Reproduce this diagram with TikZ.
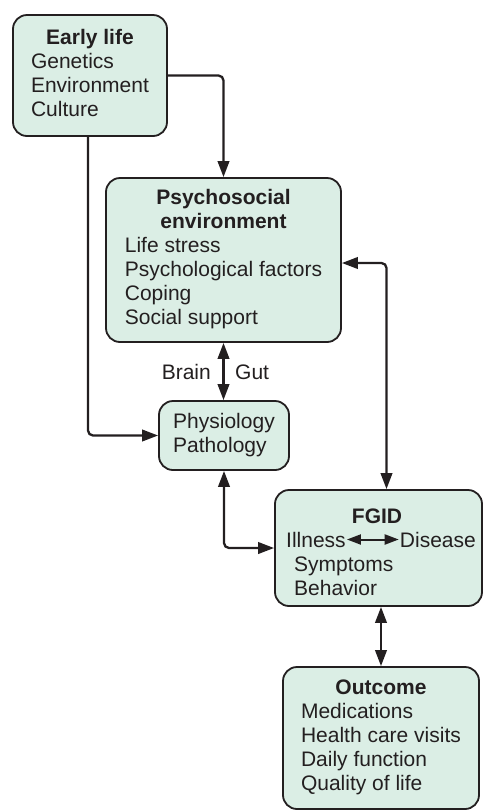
\documentclass[tikz,border=0pt]{standalone}
\usepackage{fontspec}
\setmainfont{Liberation Sans}
\usetikzlibrary{arrows.meta}
\definecolor{boxfill}{RGB}{219,238,229}
\definecolor{ink}{RGB}{35,31,32}
\begin{document}
\begin{tikzpicture}[x=1pt,y=-1pt,
  box/.style={draw=ink, line width=1.8pt, fill=boxfill, rounded corners=14pt, inner sep=0pt, text=ink, font=\fontsize{21}{24}\selectfont},
  lbl/.style={inner sep=0pt, text=ink, font=\fontsize{21}{24}\selectfont},
  conn/.style={draw=ink, line width=2.3pt, rounded corners=5pt, -{Triangle[length=16pt,width=11.5pt]}},
  biconn/.style={draw=ink, line width=2.3pt, rounded corners=5pt, {Triangle[length=16pt,width=11.5pt]}-{Triangle[length=16pt,width=11.5pt]}},
  smallbi/.style={draw=ink, line width=2pt, {Triangle[length=14pt,width=10pt]}-{Triangle[length=14pt,width=10pt]}}]
\useasboundingbox (0,0) rectangle (484,812);

\node[box, minimum width=154pt, minimum height=121pt] (early) at (90,75.5)
  {\begin{tabular}{@{}l@{}}\multicolumn{1}{@{}c@{}}{\textbf{Early life}}\\Genetics\\Environment\\Culture\end{tabular}};

\node[box, minimum width=235pt, minimum height=164pt] (psycho) at (223.5,260)
  {\begin{tabular}{@{}l@{}}\multicolumn{1}{@{}c@{}}{\textbf{Psychosocial}}\\\multicolumn{1}{@{}c@{}}{\textbf{environment}}\\Life stress\\Psychological factors\\Coping\\Social support\end{tabular}};

\node[box, minimum width=130pt, minimum height=69pt] (physio) at (224,435.5)
  {\begin{tabular}{@{}l@{}}Physiology\\Pathology\end{tabular}};

\node[box, minimum width=207pt, minimum height=116pt] (fgid) at (378.5,548) {};
\node[lbl, anchor=base] (fgidtitle) at (377,523) {\textbf{FGID}};
\node[lbl, anchor=base west] (illness) at (286,547) {Illness};
\node[lbl, anchor=base east] (disease) at (476,547) {Disease};
\node[lbl, anchor=base west] (symptoms) at (294,571) {Symptoms};
\node[lbl, anchor=base west] (behavior) at (294,595) {Behavior};

\node[box, minimum width=196pt, minimum height=142pt] (outcome) at (381,738)
  {\begin{tabular}{@{}l@{}}\multicolumn{1}{@{}c@{}}{\textbf{Outcome}}\\Medications\\Health care visits\\Daily function\\Quality of life\end{tabular}};

\node[lbl, anchor=base east] (brain) at (211,379) {Brain};
\node[lbl, anchor=base west] (gut) at (235,379) {Gut};

\draw[conn] (early.east) -| (psycho.north);
\draw[conn] ([xshift=-2pt]early.south) |- (physio.west);
\draw[biconn] (psycho.south) -- (psycho.south |- physio.north);
\draw[biconn] ([yshift=-3pt]psycho.east) -| ([xshift=8pt]fgid.north);
\draw[biconn] (physio.south) |- (fgid.west);
\draw[biconn] (outcome.north |- fgid.south) -- (outcome.north);
\draw[smallbi] ([xshift=1pt]illness.east) -- ([xshift=-1pt]disease.west);
\end{tikzpicture}
\end{document}
